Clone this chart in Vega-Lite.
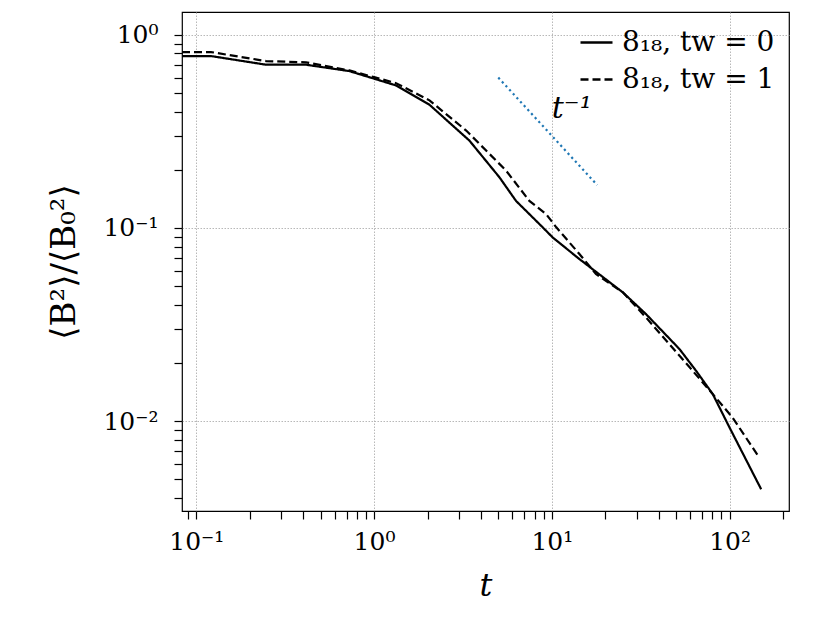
{
  "$schema": "https://vega.github.io/schema/vega-lite/v6.json",
  "width": 607,
  "height": 499,
  "autosize": {"type": "none"},
  "padding": {"left": 182, "top": 12, "right": 41, "bottom": 112},
  "background": "white",
  "config": {
    "view": {"stroke": "black", "strokeWidth": 1.2},
    "font": "DejaVu Serif",
    "axis": {
      "labelFont": "DejaVu Serif",
      "titleFont": "DejaVu Serif",
      "labelColor": "black",
      "titleColor": "black",
      "domain": false,
      "ticks": true,
      "tickColor": "#000000",
      "tickOpacity": 1,
      "tickWidth": 1.2,
      "gridColor": "#b0b0b0",
      "gridDash": [1.5, 1.5],
      "gridWidth": 0.9
    }
  },
  "datasets": {
    "curves": [
      {"series": "8₁₈, tw = 0", "t": 0.0831, "y": 0.775},
      {"series": "8₁₈, tw = 0", "t": 0.121, "y": 0.775},
      {"series": "8₁₈, tw = 0", "t": 0.247, "y": 0.699},
      {"series": "8₁₈, tw = 0", "t": 0.414, "y": 0.699},
      {"series": "8₁₈, tw = 0", "t": 0.726, "y": 0.648},
      {"series": "8₁₈, tw = 0", "t": 1.0, "y": 0.592},
      {"series": "8₁₈, tw = 0", "t": 1.33, "y": 0.546},
      {"series": "8₁₈, tw = 0", "t": 2.05, "y": 0.434},
      {"series": "8₁₈, tw = 0", "t": 3.44, "y": 0.283},
      {"series": "8₁₈, tw = 0", "t": 5.07, "y": 0.183},
      {"series": "8₁₈, tw = 0", "t": 6.29, "y": 0.138},
      {"series": "8₁₈, tw = 0", "t": 8.89, "y": 0.1007},
      {"series": "8₁₈, tw = 0", "t": 10.1, "y": 0.0894},
      {"series": "8₁₈, tw = 0", "t": 14.3, "y": 0.069},
      {"series": "8₁₈, tw = 0", "t": 25.1, "y": 0.0464},
      {"series": "8₁₈, tw = 0", "t": 33.9, "y": 0.0358},
      {"series": "8₁₈, tw = 0", "t": 52.3, "y": 0.0236},
      {"series": "8₁₈, tw = 0", "t": 64.9, "y": 0.0182},
      {"series": "8₁₈, tw = 0", "t": 80.5, "y": 0.0138},
      {"series": "8₁₈, tw = 0", "t": 100, "y": 0.00927},
      {"series": "8₁₈, tw = 0", "t": 150.7, "y": 0.00444},
      {"series": "8₁₈, tw = 1", "t": 0.0831, "y": 0.813},
      {"series": "8₁₈, tw = 1", "t": 0.121, "y": 0.813},
      {"series": "8₁₈, tw = 1", "t": 0.247, "y": 0.73},
      {"series": "8₁₈, tw = 1", "t": 0.414, "y": 0.719},
      {"series": "8₁₈, tw = 1", "t": 0.726, "y": 0.653},
      {"series": "8₁₈, tw = 1", "t": 1.0, "y": 0.603},
      {"series": "8₁₈, tw = 1", "t": 1.33, "y": 0.561},
      {"series": "8₁₈, tw = 1", "t": 2.05, "y": 0.457},
      {"series": "8₁₈, tw = 1", "t": 3.3, "y": 0.319},
      {"series": "8₁₈, tw = 1", "t": 5.53, "y": 0.198},
      {"series": "8₁₈, tw = 1", "t": 7.48, "y": 0.138},
      {"series": "8₁₈, tw = 1", "t": 9.29, "y": 0.118},
      {"series": "8₁₈, tw = 1", "t": 10.6, "y": 0.1007},
      {"series": "8₁₈, tw = 1", "t": 14.3, "y": 0.0733},
      {"series": "8₁₈, tw = 1", "t": 17.7, "y": 0.0578},
      {"series": "8₁₈, tw = 1", "t": 25.1, "y": 0.0464},
      {"series": "8₁₈, tw = 1", "t": 33.9, "y": 0.0344},
      {"series": "8₁₈, tw = 1", "t": 62.1, "y": 0.0182},
      {"series": "8₁₈, tw = 1", "t": 80.5, "y": 0.0138},
      {"series": "8₁₈, tw = 1", "t": 104, "y": 0.01044},
      {"series": "8₁₈, tw = 1", "t": 147, "y": 0.00648}
    ],
    "guide": [
      {"t": 5, "y": 0.6},
      {"t": 18, "y": 0.1667}
    ],
    "note": [
      {"t": 10, "y": 0.37, "label": "t⁻¹"}
    ]
  },
  "layer": [
    {
      "data": {"name": "curves"},
      "mark": {"type": "line", "color": "black", "strokeWidth": 2.2, "clip": true},
      "encoding": {
        "x": {
          "field": "t", "type": "quantitative",
          "scale": {"type": "log", "domain": [0.0831, 216], "nice": false},
          "axis": {
            "title": "t",
            "titleFontStyle": "italic",
            "titleFontWeight": "normal",
            "titleFontSize": 32,
            "titlePadding": 16,
            "labelFontSize": 25,
            "labelPadding": 10,
            "values": [0.09, 0.1, 0.2, 0.3, 0.4, 0.5, 0.6, 0.7, 0.8, 0.9, 1, 2, 3, 4, 5, 6, 7, 8, 9, 10, 20, 30, 40, 50, 60, 70, 80, 90, 100, 200],
            "labelExpr": "datum.value == 0.1 ? '10⁻¹' : datum.value == 1 ? '10⁰' : datum.value == 10 ? '10¹' : datum.value == 100 ? '10²' : ''",
            "tickSize": 8,
            "encode": {
              "ticks": {
                "update": {
                  "y2": {"signal": "(datum.value == 0.1 || datum.value == 1 || datum.value == 10 || datum.value == 100) ? 11 : 6"}
                }
              }
            },
            "gridOpacity": {"condition": {"test": "datum.value == 0.1 || datum.value == 1 || datum.value == 10 || datum.value == 100", "value": 1}, "value": 0},
            "labelFlush": false,
            "labelOverlap": false
          }
        },
        "y": {
          "field": "y", "type": "quantitative",
          "scale": {"type": "log", "domain": [0.00343, 1.31], "nice": false},
          "axis": {
            "title": "⟨B²⟩/⟨B₀²⟩",
            "titleFontWeight": "normal",
            "titleFontSize": 34,
            "titlePadding": 21,
            "labelFontSize": 25,
            "labelPadding": 16,
            "values": [0.004, 0.005, 0.006, 0.007, 0.008, 0.009, 0.01, 0.02, 0.03, 0.04, 0.05, 0.06, 0.07, 0.08, 0.09, 0.1, 0.2, 0.3, 0.4, 0.5, 0.6, 0.7, 0.8, 0.9, 1],
            "labelExpr": "datum.value == 0.01 ? '10⁻²' : datum.value == 0.1 ? '10⁻¹' : datum.value == 1 ? '10⁰' : ''",
            "tickSize": 8,
            "encode": {
              "ticks": {
                "update": {
                  "x2": {"signal": "(datum.value == 0.01 || datum.value == 0.1 || datum.value == 1) ? -11 : -6"}
                }
              }
            },
            "gridOpacity": {"condition": {"test": "datum.value == 0.01 || datum.value == 0.1 || datum.value == 1", "value": 1}, "value": 0},
            "labelOverlap": false
          }
        },
        "strokeDash": {
          "field": "series", "type": "nominal",
          "scale": {"domain": ["8₁₈, tw = 0", "8₁₈, tw = 1"], "range": [[1, 0], [8, 4]]},
          "legend": {
            "title": null,
            "orient": "none",
            "legendX": 397,
            "legendY": 13,
            "symbolType": "stroke",
            "symbolSize": 1024,
            "symbolStrokeWidth": 2.6,
            "symbolStrokeColor": "black",
            "labelFont": "DejaVu Serif",
            "labelFontSize": 28,
            "labelColor": "black",
            "labelOffset": 8,
            "rowPadding": 5,
            "labelLimit": 400
          }
        }
      }
    },
    {
      "data": {"name": "guide"},
      "mark": {"type": "line", "color": "#1f77b4", "strokeWidth": 2.2, "strokeDash": [2.2, 3.2]},
      "encoding": {
        "x": {"field": "t", "type": "quantitative"},
        "y": {"field": "y", "type": "quantitative"}
      }
    },
    {
      "data": {"name": "note"},
      "mark": {"type": "text", "align": "left", "baseline": "alphabetic", "fontSize": 30, "fontStyle": "italic", "font": "DejaVu Serif", "color": "black"},
      "encoding": {
        "x": {"field": "t", "type": "quantitative"},
        "y": {"field": "y", "type": "quantitative"},
        "text": {"field": "label"}
      }
    }
  ]
}
